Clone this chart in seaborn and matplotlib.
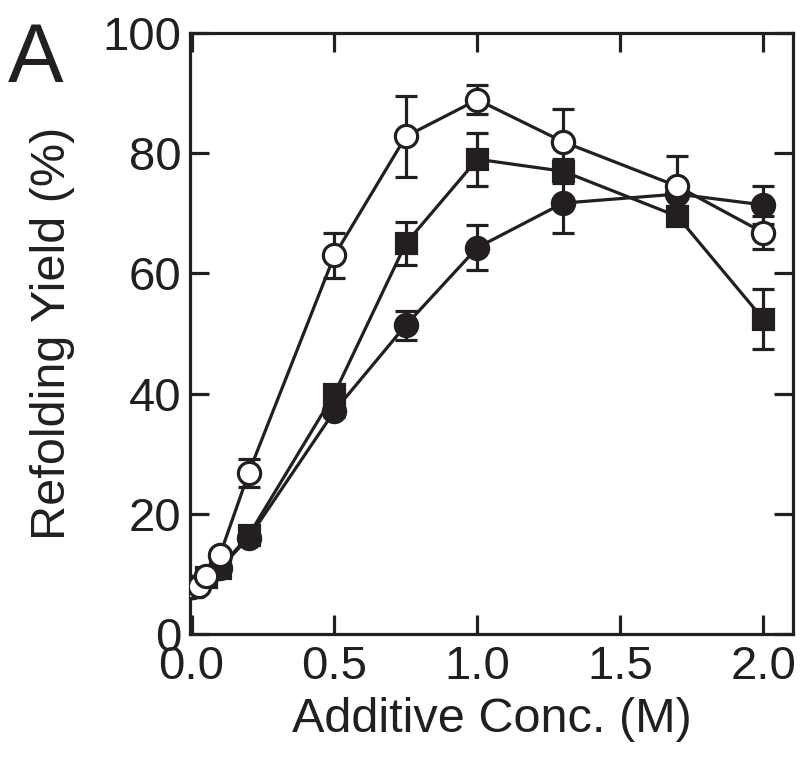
import pandas as pd
import seaborn as sns
import matplotlib.pyplot as plt

# values
conc_open = [0, 0.025, 0.05, 0.1, 0.2, 0.5, 0.75, 1.0, 1.3, 1.7, 2.0]
yield_open = [7.8, 8.0, 9.6, 13.2, 26.8, 63.0, 82.8, 88.9, 81.9, 74.5, 66.8]
err_open = [0.5, 0.5, 0.5, 0.8, 2.3, 3.7, 6.8, 2.4, 5.5, 5.0, 2.8]

conc_square = [0, 0.05, 0.1, 0.2, 0.5, 0.75, 1.0, 1.3, 1.7, 2.0]
yield_square = [7.8, 9.5, 11.0, 16.4, 40.0, 65.0, 79.0, 77.0, 69.5, 52.4]
err_square = [0.5, 0.5, 0.8, 1.0, 1.5, 3.6, 4.4, 2.0, 1.5, 5.0]

conc_filled = [0, 0.05, 0.1, 0.2, 0.5, 0.75, 1.0, 1.3, 1.7, 2.0]
yield_filled = [7.8, 9.5, 11.0, 16.0, 37.1, 51.4, 64.3, 71.7, 73.2, 71.4]
err_filled = [0.5, 0.5, 0.8, 1.0, 1.0, 2.4, 3.7, 5.0, 2.0, 3.2]

ink = '#231f20'

sns.set_style("ticks")
plt.rcParams['font.family'] = ['Liberation Sans', 'DejaVu Sans']

fig = plt.figure(figsize=(8.02, 7.68), dpi=100)
ax = fig.add_axes([0.237, 0.1745, 0.752, 0.7825])

series = [
    (conc_filled, yield_filled, err_filled, 'o', ink, 2),
    (conc_square, yield_square, err_square, 's', ink, 4),
    (conc_open, yield_open, err_open, 'o', 'white', 6),
]

for x, y, e, mk, face, z in series:
    ax.errorbar(x, y, yerr=e, fmt='none', ecolor=ink, elinewidth=2.3,
                capsize=8, capthick=2.3, zorder=z)
    df = pd.DataFrame({'conc': x, 'yield': y})
    sns.lineplot(data=df, x='conc', y='yield', ax=ax, color=ink, linewidth=2.3,
                 marker=mk, markersize=16 if mk == 'o' else 15,
                 markerfacecolor=face, markeredgecolor=ink,
                 markeredgewidth=2.3, zorder=z + 1)

ax.set_xlim(-0.005, 2.105)
ax.set_ylim(0, 100)
ax.set_xticks([0, 0.5, 1.0, 1.5, 2.0])
ax.set_xticklabels(['0.0', '0.5', '1.0', '1.5', '2.0'])
ax.set_yticks([0, 20, 40, 60, 80, 100])

for s in ax.spines.values():
    s.set_linewidth(2.3)
    s.set_color(ink)
ax.tick_params(direction='in', length=14, width=2.3, color=ink,
               labelsize=34, labelcolor=ink, top=True, right=True)
ax.tick_params(axis='x', pad=8)
ax.tick_params(axis='y', pad=6)

ax.set_xlabel('Additive Conc. (M)', fontsize=35, color=ink, labelpad=6)
ax.set_ylabel('Refolding Yield (%)', fontsize=35, color=ink, labelpad=20)

fig.text(0.010, 0.893, 'A', fontsize=60, color=ink)

fig.savefig('out.png', dpi=100)
